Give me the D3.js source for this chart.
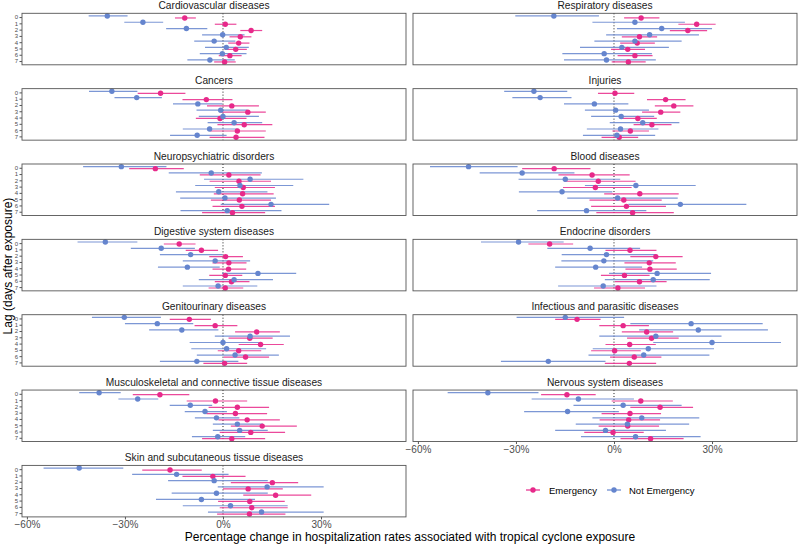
<!DOCTYPE html>
<html>
<head>
<meta charset="utf-8">
<script src="https://cdn.jsdelivr.net/npm/d3@7"></script>
<style>
  html, body { margin: 0; padding: 0; background: #fff; }
  svg { display: block; font-family: "Liberation Sans", Arial, Helvetica, sans-serif; }
</style>
</head>
<body>
<svg id="chart" width="798" height="545"></svg>
<script>
// ---- Data (facet order, row-wise as in facet_wrap ncol = 2) ----
const categories = [
  "Cardiovascular diseases", "Respiratory diseases",
  "Cancers", "Injuries",
  "Neuropsychiatric disorders", "Blood diseases",
  "Digestive system diseases", "Endocrine disorders",
  "Genitourinary diseases", "Infectious and parasitic diseases",
  "Musculoskeletal and connective tissue diseases", "Nervous system diseases",
  "Skin and subcutaneous tissue diseases"
];
const lags = [0, 1, 2, 3, 4, 5, 6, 7];
const seriesNames = ["Emergency", "Not Emergency"];
const xTicks = [-60, -30, 0, 30];

// Emergency: estimate / lower / upper (% change)
const emergEst = [
  [-11.7, 0.7, 8.6, 5.3, 4.8, 3.9, 2.1, 0.5],
  [8.3, 25.3, 22.6, 7.8, 7.1, 4.2, 6.4, 4.4],
  [-19.1, -5.1, 2.7, 7.6, -0.9, 6.5, 4.4, 4.0],
  [0.3, 15.8, 18.3, 14.3, 7.3, 11.6, 5.0, 1.6],
  [-20.7, 1.8, 4.9, 6.2, 6.0, 5.0, 5.8, 2.9],
  [-18.3, -6.7, -4.8, -5.7, 7.9, 3.0, 3.8, 5.7],
  [-13.4, -6.6, 0.8, 1.8, 1.7, 0.7, 2.6, 0.7],
  [-19.7, 4.9, 12.8, 10.8, 11.0, 3.2, 7.8, 1.2],
  [-10.3, -2.4, 10.3, 8.2, 11.5, 4.8, 6.9, 0.5],
  [-11.3, 2.8, 10.0, 11.5, 4.8, 0.2, 6.2, 4.7],
  [-19.3, -2.3, 4.4, 3.8, 7.4, 12.0, 8.5, 2.7],
  [-14.4, 8.2, 14.1, 4.9, 4.5, 4.2, -0.3, 11.2],
  [-16.2, -3.1, 15.1, 7.7, 16.1, 8.2, 8.8, 8.1]
];
const emergLo = [
  [-14.7, -2.5, 5.3, 2.0, 1.6, 0.5, -1.3, -2.7],
  [3.1, 19.7, 17.1, 2.4, 1.9, -0.9, 1.1, -0.7],
  [-26.1, -12.4, -4.9, -1.0, -8.3, -1.7, -3.9, -4.1],
  [-4.9, 10.1, 12.5, 8.6, 1.9, 6.0, -0.5, -3.8],
  [-28.7, -7.1, -4.1, -2.5, -2.8, -3.7, -3.2, -6.4],
  [-28.1, -17.0, -15.3, -15.6, -3.0, -7.5, -7.0, -5.4],
  [-18.1, -11.4, -4.2, -3.2, -3.2, -4.2, -2.5, -4.4],
  [-26.2, -2.6, 5.0, 3.2, 3.5, -4.0, 0.3, -6.1],
  [-16.3, -8.7, 3.7, 1.7, 4.8, -1.6, 0.2, -6.0],
  [-18.0, -4.5, 2.4, 4.0, -2.6, -7.0, -1.2, -2.8],
  [-27.6, -11.1, -4.4, -5.1, -1.4, 2.4, -1.0, -6.4],
  [-22.3, -0.7, 5.0, -3.8, -4.4, -4.7, -9.1, 2.0],
  [-24.7, -12.4, 2.4, 0.0, 6.2, -1.5, -1.0, -1.8]
];
const emergHi = [
  [-8.3, 4.1, 12.0, 8.7, 8.1, 7.3, 5.7, 3.9],
  [13.9, 31.1, 28.5, 13.2, 12.5, 9.5, 11.8, 9.7],
  [-11.5, 2.9, 11.0, 13.1, 7.2, 15.1, 13.1, 12.7],
  [6.2, 21.9, 24.3, 20.3, 13.1, 17.6, 10.7, 7.4],
  [-12.0, 11.5, 14.7, 15.9, 15.5, 14.7, 15.9, 12.9],
  [-7.2, 4.8, 6.6, 5.4, 19.8, 14.6, 15.9, 18.3],
  [-8.4, -1.5, 6.1, 7.2, 7.1, 5.9, 8.1, 6.2],
  [-12.5, 13.0, 21.0, 18.9, 19.2, 10.9, 16.1, 9.5],
  [-3.7, 4.4, 17.4, 15.2, 18.6, 11.7, 14.1, 7.4],
  [-4.1, 10.7, 18.1, 19.8, 12.8, 8.2, 14.5, 12.9],
  [-10.3, 7.4, 14.1, 13.5, 17.4, 22.6, 19.0, 12.9],
  [-5.6, 18.0, 24.2, 14.4, 14.1, 13.8, 9.1, 21.3],
  [-6.5, 6.9, 23.0, 18.3, 27.0, 18.9, 19.8, 19.1]
];

// Not Emergency: estimate / lower / upper (% change)
const notEmergEst = [
  [-35.4, -24.5, -11.2, -0.1, -2.7, 1.0, -0.2, -4.0],
  [-18.4, 6.4, 14.6, 10.9, 6.4, 2.4, -3.0, -2.3],
  [-34.0, -26.4, -7.7, -0.7, 0.0, 3.4, -4.1, -7.9],
  [-24.5, -22.6, -6.0, 0.5, 2.2, 8.8, 2.0, 0.9],
  [-31.1, -3.6, 8.3, 5.2, -1.3, 0.6, 14.7, 1.3],
  [-44.5, -28.1, -14.9, 6.7, -15.9, 1.1, 20.3, -8.4],
  [-36.0, -18.9, -9.9, -2.4, -10.9, 10.7, 3.4, -1.5],
  [-29.2, -7.3, -2.3, -3.1, -5.6, 13.2, 12.0, -3.3],
  [-30.2, -20.1, -12.6, 8.3, 0.0, 1.1, 3.7, -8.0],
  [-14.9, 23.6, 25.8, 12.8, 30.0, 10.5, 9.1, -20.1],
  [-37.9, -26.1, -10.0, -5.5, -2.0, 4.4, 5.1, -1.6],
  [-38.6, -10.9, 2.8, -14.2, 8.5, 4.1, -2.6, 6.6],
  [-44.0, -14.2, -2.7, 13.5, -2.0, -6.6, 2.3, 11.8]
];
const notEmergLo = [
  [-41.1, -30.2, -17.4, -6.4, -8.8, -5.5, -7.1, -10.9],
  [-30.2, -6.6, 0.9, -2.4, -6.0, -10.4, -15.8, -15.3],
  [-41.0, -33.2, -15.3, -8.1, -7.4, -4.7, -12.3, -16.2],
  [-33.6, -31.1, -15.3, -8.9, -7.0, -1.3, -8.3, -9.5],
  [-42.8, -16.6, -5.8, -8.5, -14.4, -13.1, -0.7, -13.0],
  [-56.3, -41.1, -29.2, -8.9, -29.1, -14.3, 4.4, -23.5],
  [-44.5, -28.2, -19.3, -12.3, -19.9, -0.3, -7.4, -12.3],
  [-40.7, -20.4, -16.0, -16.1, -18.0, -1.5, -2.8, -17.1],
  [-40.1, -30.0, -22.6, -2.5, -10.2, -9.7, -8.0, -19.3],
  [-29.8, 5.0, 7.7, -4.5, 12.0, -6.5, -7.8, -34.6],
  [-44.0, -32.0, -16.3, -11.7, -8.6, -3.1, -3.1, -9.5],
  [-50.9, -25.2, -12.4, -27.5, -6.6, -11.7, -18.0, -10.1],
  [-54.9, -27.8, -16.8, -1.6, -15.7, -20.5, -12.3, -4.6]
];
const notEmergHi = [
  [-29.2, -18.3, -4.8, 6.6, 3.8, 7.9, 7.2, 3.6],
  [-4.6, 21.7, 30.0, 26.0, 20.7, 16.8, 11.6, 12.8],
  [-26.2, -18.7, -0.2, 7.4, 11.0, 12.0, 4.4, 1.1],
  [-14.3, -13.0, 4.4, 10.7, 12.3, 20.0, 13.6, 12.6],
  [-17.3, 11.9, 24.6, 21.5, 13.6, 16.2, 32.5, 17.9],
  [-29.5, -12.1, 1.9, 25.0, -0.5, 19.5, 40.5, 9.9],
  [-26.2, -8.6, -0.2, 8.3, -1.0, 22.4, 15.3, 10.5],
  [-15.4, 8.0, 13.0, 12.0, 8.6, 29.7, 29.3, 13.0],
  [-19.0, -9.1, -1.4, 20.5, 11.0, 13.2, 17.1, 4.7],
  [3.1, 45.5, 47.1, 32.9, 51.1, 30.6, 29.2, -2.6],
  [-31.3, -19.8, -3.3, 1.2, 5.0, 12.2, 13.7, 6.8],
  [-23.1, 6.1, 20.7, 1.5, 26.1, 23.0, 15.9, 26.5],
  [-30.5, 1.7, 13.7, 30.8, 13.7, 9.8, 19.8, 30.8]
];

// ---- Layout ----
const colors = { "Emergency": "#E7298A", "Not Emergency": "#6585CE" };
const dodge = { "Emergency": 0.9, "Not Emergency": -1.1 };
const colX = [22, 413];
const panelW = 384;
const panelTop0 = 13.3;
const panelPitch = 75.35;
const panelH = 51.5;
const xDomain = [-61.5, 56];

const svg = d3.select("#chart");

const series = [
  { name: "Emergency", est: emergEst, lo: emergLo, hi: emergHi },
  { name: "Not Emergency", est: notEmergEst, lo: notEmergLo, hi: notEmergHi }
];

const nRowsCol = [7, 6];

categories.forEach((cat, i) => {
  const col = i % 2;
  const row = Math.floor(i / 2);
  const x0 = colX[col];
  const y0 = panelTop0 + row * panelPitch;
  const x = d3.scaleLinear().domain(xDomain).range([x0, x0 + panelW]);
  const y = d3.scalePoint().domain(lags).range([y0, y0 + panelH]).padding(0.6);

  const g = svg.append("g");

  // strip title
  g.append("text")
    .attr("x", x0 + panelW / 2).attr("y", y0 - 4.5)
    .attr("text-anchor", "middle")
    .attr("font-size", 10.2).attr("fill", "#1a1a1a")
    .text(cat);

  // zero line
  g.append("line")
    .attr("x1", x(0)).attr("x2", x(0))
    .attr("y1", y0).attr("y2", y0 + panelH)
    .attr("stroke", "#000").attr("stroke-width", 0.9)
    .attr("stroke-dasharray", "1,2");

  // error bars
  series.forEach(s => {
    g.selectAll(null).data(lags).enter().append("line")
      .attr("x1", d => x(s.lo[i][d])).attr("x2", d => x(s.hi[i][d]))
      .attr("y1", d => y(d) + dodge[s.name]).attr("y2", d => y(d) + dodge[s.name])
      .attr("stroke", colors[s.name]).attr("stroke-width", 1.2)
      .attr("stroke-opacity", 0.85);
  });
  // points
  series.forEach(s => {
    g.selectAll(null).data(lags).enter().append("circle")
      .attr("cx", d => x(s.est[i][d])).attr("cy", d => y(d) + dodge[s.name])
      .attr("r", 2.7).attr("fill", colors[s.name]);
  });

  // panel border
  g.append("rect")
    .attr("x", x0).attr("y", y0).attr("width", panelW).attr("height", panelH)
    .attr("fill", "none").attr("stroke", "#555").attr("stroke-width", 0.9);

  // y axis (left column only)
  if (col === 0) {
    const ya = d3.axisLeft(y).tickSize(2.5).tickPadding(1.5);
    const ag = g.append("g").attr("transform", `translate(${x0},0)`).call(ya);
    ag.select(".domain").remove();
    ag.selectAll(".tick line").attr("stroke", "#555");
    ag.selectAll(".tick text").attr("font-size", 6).attr("fill", "#4d4d4d")
      .attr("font-family", "Liberation Sans, Arial, sans-serif");
  }

  // x axis (bottom panel of each column)
  if (row === nRowsCol[col] - 1) {
    const xa = d3.axisBottom(x).tickValues(xTicks).tickFormat(d => d + "%").tickSize(2.5).tickPadding(2);
    const ag = g.append("g").attr("transform", `translate(0,${y0 + panelH})`).call(xa);
    ag.select(".domain").remove();
    ag.selectAll(".tick line").attr("stroke", "#555");
    ag.selectAll(".tick text").attr("font-size", 10).attr("fill", "#4d4d4d")
      .attr("font-family", "Liberation Sans, Arial, sans-serif")
      .text(d => (d < 0 ? "\u2212" + Math.abs(d) : d) + "%");
  }
});

// axis titles
svg.append("text")
  .attr("x", 410).attr("y", 541)
  .attr("text-anchor", "middle").attr("font-size", 12).attr("fill", "#000")
  .text("Percentage change in hospitalization rates associated with tropical cyclone exposure");

svg.append("text")
  .attr("transform", "translate(12,266) rotate(-90)")
  .attr("text-anchor", "middle").attr("font-size", 12).attr("fill", "#000")
  .text("Lag (days after exposure)");

// legend
const legendItems = [
  { name: "Emergency", cx: 533, tx: 549 },
  { name: "Not Emergency", cx: 614, tx: 629 }
];
const lg = svg.append("g");
legendItems.forEach(it => {
  lg.append("line").attr("x1", it.cx - 7).attr("x2", it.cx + 7)
    .attr("y1", 490).attr("y2", 490)
    .attr("stroke", colors[it.name]).attr("stroke-width", 1.2);
  lg.append("circle").attr("cx", it.cx).attr("cy", 490).attr("r", 2.7)
    .attr("fill", colors[it.name]);
  lg.append("text").attr("x", it.tx).attr("y", 493.5)
    .attr("font-size", 9.5).attr("fill", "#000").text(it.name);
});
</script>
</body>
</html>
